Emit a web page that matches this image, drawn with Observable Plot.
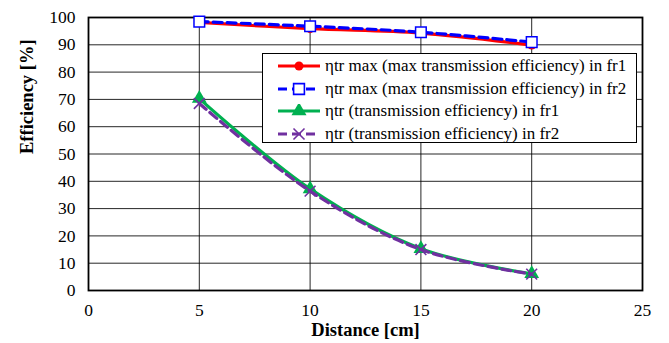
<!DOCTYPE html>
<html><head><meta charset="utf-8">
<script src="https://cdn.jsdelivr.net/npm/d3@7"></script>
<script src="https://cdn.jsdelivr.net/npm/@observablehq/plot@0.6"></script>
<style>
body{margin:0;background:#fff;}
#wrap{position:relative;width:669px;height:343px;font-family:"Liberation Serif","Times New Roman",serif;}
#legend{position:absolute;left:262px;top:53px;width:375px;height:90px;border:1.5px solid #000;background:#fff;box-sizing:border-box;padding-top:1px;}
.row{display:flex;align-items:center;height:22.5px;font-size:17px;white-space:nowrap;}
.row svg{margin-left:14px;margin-right:4px;}
</style></head>
<body><div id="wrap"><div id="chart"></div><div id="legend"></div></div>
<script>
const distances = [5, 10, 15, 20];
const seriesNames = [
  "\u03b7tr max (max transmission efficiency) in fr1",
  "\u03b7tr max (max transmission efficiency) in fr2",
  "\u03b7tr (transmission efficiency) in fr1",
  "\u03b7tr (transmission efficiency) in fr2"
];
const maxFr1 = [98.2, 95.9, 94.3, 89.9];
const maxFr2 = [98.5, 96.8, 94.6, 91.0];
const effFr1 = [70.3, 37.2, 15.3, 6.1];
const effFr2 = [68.5, 36.4, 15.0, 6.0];
const xTicks = [0, 5, 10, 15, 20, 25];
const yTicks = [0, 10, 20, 30, 40, 50, 60, 70, 80, 90, 100];

const styles = [
  {color: "#ff0000", dash: null, symbol: "circle", fill: "#ff0000", r: 4.5},
  {color: "#0000ff", dash: "9,5", symbol: "square", fill: "#ffffff", r: 6},
  {color: "#00b050", dash: null, symbol: "triangle", fill: "#00b050", r: 5.5},
  {color: "#7030a0", dash: "9,5", symbol: "times", fill: "none", r: 5}
];
const values = [maxFr1, maxFr2, effFr1, effFr2];
const series = values.map((vals, i) => distances.map((d, j) => ({x: d, y: vals[j], s: seriesNames[i]})));

const marks = [
  Plot.gridY(yTicks, {stroke: "#000", strokeOpacity: 0.85, strokeWidth: 1}),
  Plot.gridX(xTicks, {stroke: "#000", strokeOpacity: 0.85, strokeWidth: 1}),
  Plot.frame({stroke: "#000", strokeWidth: 1.8}),
  Plot.axisX({ticks: xTicks, tickSize: 0, tickPadding: 13, fontSize: 17.5, label: null}),
  Plot.axisY({ticks: yTicks, tickSize: 0, tickPadding: 13, fontSize: 17.5, label: null}),
  Plot.text(["Efficiency [%]"], {frameAnchor: "left", dx: -61, rotate: -90, fontWeight: "bold", fontSize: 18.5}),
  Plot.text(["Distance [cm]"], {frameAnchor: "bottom", dy: 45.5, fontWeight: "bold", fontSize: 18.5})
];
series.forEach((data, i) => {
  const st = styles[i];
  marks.push(Plot.line(data, {x: "x", y: "y", stroke: st.color, strokeWidth: 3.2, strokeDasharray: st.dash, curve: "catmull-rom"}));
  marks.push(Plot.dot(data, {x: "x", y: "y", symbol: () => st.symbol, r: st.r, fill: st.fill, stroke: st.symbol === "circle" || st.symbol === "triangle" ? "none" : st.color, strokeWidth: st.symbol === "times" ? 1.6 : 1.5}));
});

const chart = Plot.plot({
  width: 669, height: 343,
  marginLeft: 88, marginRight: 27, marginTop: 17, marginBottom: 53,
  style: {fontFamily: "'Liberation Serif','Times New Roman',serif", fontSize: "17px", color: "#000", background: "#fff"},
  x: {domain: [0, 25], axis: null},
  y: {domain: [0, 100], axis: null},
  symbol: {type: "identity"},
  marks
});
document.getElementById("chart").appendChild(chart);

const legend = document.getElementById("legend");
styles.forEach((st, i) => {
  const row = document.createElement("div");
  row.className = "row";
  const ns = "http://www.w3.org/2000/svg";
  const svg = document.createElementNS(ns, "svg");
  svg.setAttribute("width", 44); svg.setAttribute("height", 14);
  const line = document.createElementNS(ns, "line");
  line.setAttribute("x1", 1); line.setAttribute("x2", 43); line.setAttribute("y1", 7); line.setAttribute("y2", 7);
  line.setAttribute("stroke", st.color); line.setAttribute("stroke-width", 3.2);
  if (st.dash) line.setAttribute("stroke-dasharray", "9,5");
  svg.appendChild(line);
  const sym = {circle: d3.symbolCircle, square: d3.symbolSquare, triangle: d3.symbolTriangle, times: d3.symbolTimes}[st.symbol];
  const path = document.createElementNS(ns, "path");
  const size = st.symbol === "circle" ? Math.PI * st.r * st.r : (st.r * 1.8) ** 2;
  path.setAttribute("d", d3.symbol(sym, size)());
  path.setAttribute("transform", "translate(22,7)");
  path.setAttribute("fill", st.fill);
  if (st.symbol === "square" || st.symbol === "times") { path.setAttribute("stroke", st.color); path.setAttribute("stroke-width", 1.6); }
  svg.appendChild(path);
  row.appendChild(svg);
  const span = document.createElement("span");
  span.textContent = seriesNames[i];
  row.appendChild(span);
  legend.appendChild(row);
});
</script></body></html>
